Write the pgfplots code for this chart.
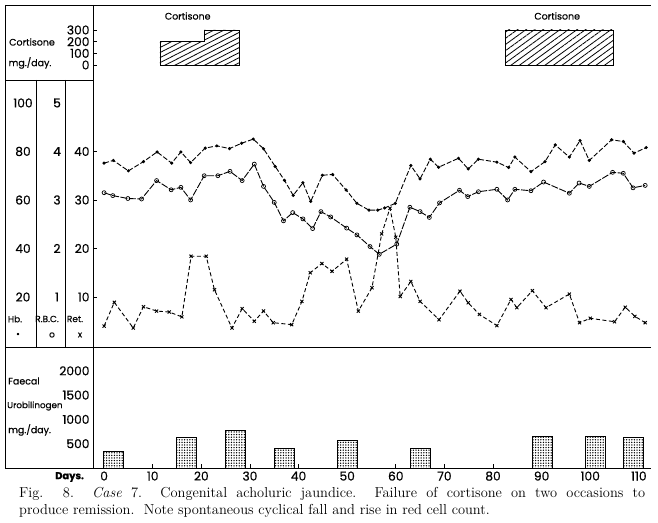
\documentclass[border=0pt]{standalone}
\usepackage{pgfplots}
\pgfplotsset{compat=1.18}
\usepackage{fontspec}
\usetikzlibrary{patterns.meta}
\newfontfamily\cf{Poppins}[FakeBold=0.5]
\newcommand\fs[1]{\fontsize{#1}{#1}\selectfont}
\pgfplotsset{
  base/.style={scale only axis, width=558bp, xmin=-2.28, xmax=112.5,
    anchor=south west, axis y line*=left,
    axis line style={line width=0.9bp},
    tick style={line width=0.8bp, black},
    /pgf/number format/assume math mode=true,
    /pgf/number format/1000 sep={},
    yticklabel style={font=\cf\fs{12.3}},
    xticklabel style={font=\cf\fs{12.3}},
    tick align=inside, major tick length=4bp, clip=false},
}
\pgfplotstableread{
d hb
0 75.2
1.9 76.3
5.0 72.0
8.1 75.8
10.9 79.8
13.9 75.2
15.8 79.8
17.8 75.4
20.8 81.4
23.2 82.3
25.8 81.2
28.3 83.4
30.7 85.1
32.8 81.1
35.2 73.8
37.1 68.1
38.9 61.9
40.9 67.1
42.5 59.4
44.9 70.2
47.0 70.5
49.8 64.1
52.0 58.6
54.5 55.8
56.3 55.8
57.7 56.7
59.9 58.6
63.1 74.2
65.0 68.7
67.1 76.8
68.8 73.5
72.9 77.2
74.9 72.8
77.0 76.8
80.8 75.6
83.2 73.4
84.5 77.7
87.8 71.7
90.7 75.8
92.8 82.7
95.7 77.7
97.9 84.5
99.8 76.3
104.4 84.8
106.8 84.1
109.0 79.3
111.5 81.6
}\hbdata
\pgfplotstableread{
d rbc
0 3.15
1.8 3.09
4.9 3.03
7.7 3.02
10.8 3.40
13.8 3.21
15.8 3.26
17.8 3.00
20.6 3.50
23.4 3.50
25.9 3.59
28.4 3.40
30.9 3.74
32.8 3.28
35.0 2.95
36.9 2.57
38.8 2.74
40.9 2.61
42.9 2.41
44.6 2.76
46.6 2.65
49.9 2.42
52.0 2.28
54.7 2.04
56.6 1.88
60.2 2.09
62.9 2.85
65.0 2.76
66.9 2.64
69.0 2.94
73.1 3.20
74.8 3.07
77.0 3.17
80.8 3.22
83.0 3.00
84.5 3.22
87.8 3.19
90.4 3.37
95.7 3.14
97.7 3.35
99.8 3.28
104.6 3.57
106.8 3.55
108.8 3.25
111.3 3.30
}\rbcdata
\pgfplotstableread{
d ret
0 4.0
2.1 8.9
6.0 3.6
8.1 8.0
10.8 7.1
13.4 6.9
16.0 5.9
17.9 18.4
21.0 18.4
22.7 11.5
26.3 3.6
28.4 7.6
30.9 5.0
32.8 7.1
34.8 4.7
38.6 4.3
40.7 9.1
42.4 15.0
44.8 16.9
46.9 15.3
49.9 17.8
52.3 7.1
55.1 11.9
57.1 23.0
58.8 28.3
60.0 22.3
60.9 10.1
63.1 13.2
65.0 9.1
68.9 5.3
73.2 11.2
74.9 8.8
77.2 6.4
80.8 4.1
83.7 9.5
84.9 7.8
88.1 11.3
90.9 7.8
95.7 10.6
97.8 4.7
100.0 5.6
105.0 4.9
107.2 7.9
109.2 6.0
111.3 4.7
}\retdata
\pgfplotstableread{
d uro
2.0 335
17.0 623
27.0 767
37.1 405
50.0 576
65.1 405
90.1 644
101.1 658
108.8 632
}\urodata
\begin{document}
\begin{tikzpicture}[x=1bp,y=1bp]
\path[use as bounding box] (0,0) rectangle (658,523);
\begin{scope}[line width=0.9bp]
\draw (5,518) -- (651,518);
\draw (5,518) -- (5,55);
\draw (93,518) -- (93,55);
\draw (5,443) -- (93,443);
\draw (5,176) -- (651,176);
\draw (5,55) -- (651,55);
\draw (36,443) -- (36,176);
\draw (65,443) -- (65,176);
\end{scope}

% cortisone panel
\begin{axis}[base, axis x line=none, at={(93bp,443bp)}, height=75bp, ymin=-128.6, ymax=514.3,
  ytick={0,100,200,300}]
\addplot[line width=0.9bp, fill=white, postaction={pattern={Lines[angle=27,distance=4.5bp,line width=0.8bp]}}]
  coordinates {(11.5,0) (11.5,200) (20.6,200) (20.6,300) (27.8,300) (27.8,0)} -- cycle;
\addplot[line width=0.9bp, fill=white, postaction={pattern={Lines[angle=36,distance=5bp,line width=0.8bp]}}]
  coordinates {(82.5,0) (82.5,300) (104.7,300) (104.7,0)} -- cycle;
\node[font=\cf\fs{9.5}] at (axis cs:17.2,420) {Cortisone};
\node[font=\cf\fs{9.5}] at (axis cs:93.2,420) {Cortisone};
\end{axis}

% Hb
\begin{axis}[base, axis x line=none, at={(93bp,176bp)}, height=342bp, ymin=-0.62, ymax=140.4,
  ytick={20,40,60,80,100}, ytick style={draw=none},
  yticklabel style={anchor=center, xshift=-70bp}]
\addplot[line width=0.9bp, dash pattern=on 5bp off 2bp, mark=*, mark size=1.1pt,
  mark options={solid}] table[x=d,y=hb] {\hbdata};
\end{axis}

% RBC
\begin{axis}[base, axis x line=none, at={(93bp,176bp)}, height=342bp, ymin=-0.031, ymax=7.02,
  ytick={1,2,3,4,5}, ytick style={draw=none},
  yticklabel style={anchor=center, xshift=-36bp}]
\addplot[line width=0.9bp, dash pattern=on 7bp off 1.5bp, mark=o, mark size=2pt,
  mark options={solid, fill=white, line width=0.7bp}] table[x=d,y=rbc] {\rbcdata};
\end{axis}

% Ret
\begin{axis}[base, axis x line=none, at={(93bp,176bp)}, height=342bp, ymin=-0.31, ymax=70.2,
  ytick={10,20,30,40}]
\addplot[line width=0.9bp, dash pattern=on 4bp off 2.5bp, mark=x, mark size=2.2pt,
  mark options={solid}] table[x=d,y=ret] {\retdata};
\end{axis}

% Faecal urobilinogen
\begin{axis}[base, at={(93bp,55bp)}, height=121bp, ymin=0, ymax=2490,
  axis x line*=bottom, xtick={0,10,...,110}, ytick={500,1000,1500,2000},
  ytick style={draw=none}]
\addplot[ybar, bar width=20bp, line width=0.9bp, fill=white,
  postaction={pattern={Dots[distance=2.6bp,radius=0.75bp]}}]
  table[x=d,y=uro] {\urodata};
\end{axis}

% left labels
\node[font=\cf\fs{9.5}] at (32,481) {Cortisone};
\node[font=\cf\fs{9.5}] at (30,460) {mg./day.};
\node[font=\cf\fs{9}] at (15,204) {Hb.};
\node[font=\cf\fs{9}] at (47,204) {R.B.C.};
\node[font=\cf\fs{9}] at (75,204) {Ret.};
\node[font=\cf\fs{9}] at (18,188) {•};
\node[font=\cf\fs{9}] at (52,188) {o};
\node[font=\cf\fs{9}] at (80,188) {x};
\node[font=\cf\fs{9.5}, anchor=west, inner sep=0] at (8,142) {Faecal};
\node[font=\cf\fs{8.8}, anchor=west, inner sep=0] at (7,117) {Urobilinogen};
\node[font=\cf\fs{9.5}, anchor=west, inner sep=0] at (8,93) {mg./day.};
\node[font=\cf\fs{10}\bfseries, anchor=west, inner sep=0] at (55,46) {Days.};

% caption
\node[anchor=base west, inner sep=0, font=\fs{14.5}] at (19,25)
  {\makebox[626bp][s]{Fig. 8.\ \ \textit{Case} 7.\ \ Congenital acholuric jaundice.\ \ Failure of cortisone on two occasions to}};
\node[anchor=base west, inner sep=0, font=\fs{14.5}] at (19,8)
  {produce remission.\ \ Note spontaneous cyclical fall and rise in red cell count.};
\end{tikzpicture}
\end{document}
